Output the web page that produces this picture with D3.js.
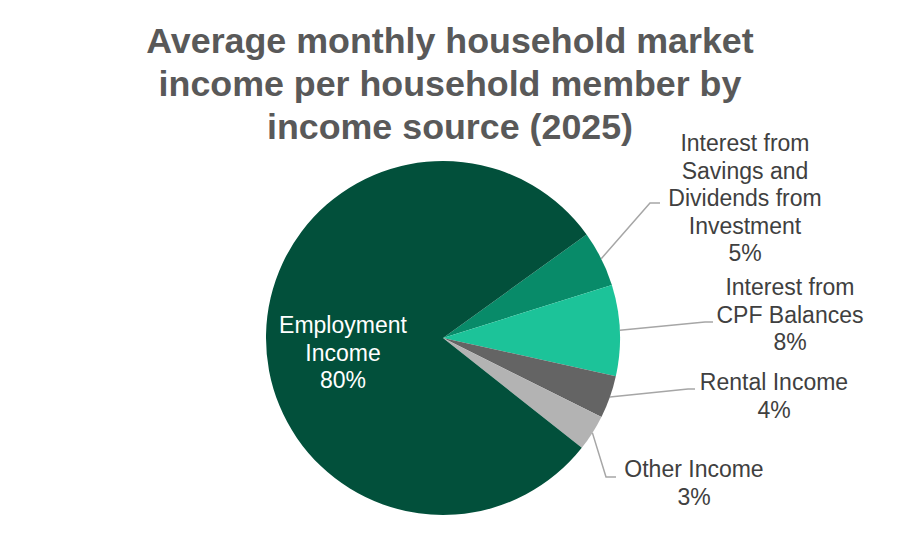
<!DOCTYPE html>
<html>
<head>
<meta charset="utf-8">
<script src="https://cdn.jsdelivr.net/npm/d3@7"></script>
<style>
  html, body { margin: 0; padding: 0; background: #ffffff; }
  svg { display: block; }
</style>
</head>
<body>
<svg id="chart" width="904" height="542"></svg>
<script>
// ---- data ----
const titleLines = ["Average monthly household market", "income per household member by", "income source (2025)"];
const categories = ["Interest from Savings and Dividends from Investment", "Interest from CPF Balances", "Rental Income", "Other Income", "Employment Income"];
const values = [5.1, 8.3, 3.9, 3.3, 79.4];
const pctLabels = ["5%", "8%", "4%", "3%", "80%"];
const labelLines = [
  ["Interest from", "Savings and", "Dividends from", "Investment"],
  ["Interest from", "CPF Balances"],
  ["Rental Income"],
  ["Other Income"],
  ["Employment", "Income"]
];
const colors = ["#088b69", "#1cc399", "#646464", "#b3b3b3", "#02503b"];

// ---- layout ----
const svg = d3.select("#chart");
const cx = 443, cy = 338, R = 177;
const startDeg = 54.2;

svg.append("g").selectAll("text").data(titleLines).join("text")
  .attr("x", 450).attr("y", (d, i) => 53 + i * 43)
  .attr("text-anchor", "middle")
  .attr("font-family", "'Liberation Sans', Arial, sans-serif")
  .attr("font-weight", "bold").attr("font-size", 35.8)
  .attr("fill", "#595959")
  .text(d => d);

const pie = d3.pie().sort(null).value(d => d)
  .startAngle(startDeg * Math.PI / 180)
  .endAngle(startDeg * Math.PI / 180 + 2 * Math.PI);
const arcs = pie(values);
const arc = d3.arc().innerRadius(0).outerRadius(R);

const g = svg.append("g").attr("transform", `translate(${cx},${cy})`);
g.selectAll("path").data(arcs).join("path")
  .attr("d", arc)
  .attr("fill", (d, i) => colors[i]);

// label placement (center x, first baseline) and leader line bends
const labelPos = [
  { x: 745, y: 151, lead: [[650, 203], [660, 203]] },
  { x: 790, y: 295, lead: [[705, 322], [713, 322]] },
  { x: 774, y: 390, lead: [[688, 389], [695, 389]] },
  { x: 694, y: 477, lead: [[606, 477], [616, 477]] },
  { x: 343, y: 333, lead: null }
];

const edge = d => {
  const a = (d.startAngle + d.endAngle) / 2;
  return [cx + R * Math.sin(a), cy - R * Math.cos(a)];
};

const line = d3.line();
arcs.forEach((d, i) => {
  const p = labelPos[i];
  if (p.lead) {
    svg.append("path")
      .attr("d", line([edge(d)].concat(p.lead)))
      .attr("fill", "none").attr("stroke", "#a6a6a6").attr("stroke-width", 1.5);
  }
  const lines = labelLines[i].concat([pctLabels[i]]);
  svg.append("g").selectAll("text").data(lines).join("text")
    .attr("x", p.x).attr("y", (t, j) => p.y + j * 27.5)
    .attr("text-anchor", "middle")
    .attr("font-family", "'Liberation Sans', Arial, sans-serif")
    .attr("font-size", 23)
    .attr("fill", i === 4 ? "#ffffff" : "#404040")
    .text(t => t);
});
</script>
</body>
</html>
